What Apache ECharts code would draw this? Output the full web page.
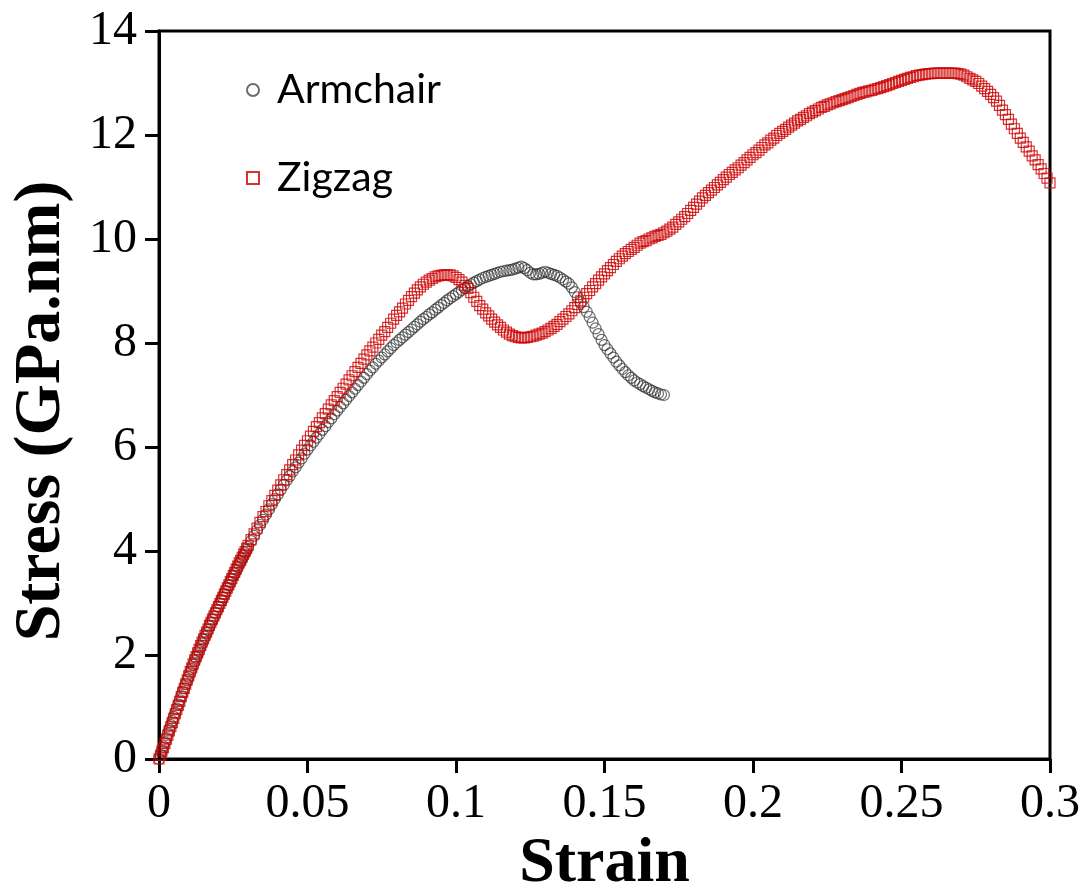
<!DOCTYPE html>
<html>
<head>
<meta charset="utf-8">
<script src="https://cdn.jsdelivr.net/npm/echarts@6/dist/echarts.min.js"></script>
<style>
  html, body { margin: 0; padding: 0; background: #fff; }
  #chart { width: 1079px; height: 894px; }
</style>
</head>
<body>
<div id="chart"></div>
<script>
// strain, stress (GPa.nm)
const armchair = [
  [0, 0], [0.0005, 0.08], [0.001, 0.16], [0.0015, 0.24], [0.002, 0.32], [0.0025, 0.40],
  [0.003, 0.49], [0.0035, 0.57], [0.004, 0.65], [0.0045, 0.73], [0.005, 0.81], [0.0055, 0.89],
  [0.006, 0.97], [0.0065, 1.05], [0.007, 1.13], [0.0075, 1.21], [0.008, 1.29], [0.0085, 1.36],
  [0.009, 1.44], [0.0095, 1.51], [0.010, 1.58], [0.0105, 1.66], [0.011, 1.73], [0.0115, 1.81],
  [0.012, 1.88], [0.0125, 1.95], [0.013, 2.01], [0.0135, 2.08], [0.014, 2.15], [0.0145, 2.22],
  [0.015, 2.29], [0.0155, 2.35], [0.016, 2.42], [0.0165, 2.48], [0.017, 2.55], [0.0175, 2.62],
  [0.018, 2.68], [0.0185, 2.74], [0.019, 2.81], [0.0195, 2.87], [0.020, 2.93], [0.0205, 2.99],
  [0.021, 3.05], [0.0215, 3.11], [0.022, 3.17], [0.0225, 3.23], [0.023, 3.29], [0.0235, 3.34],
  [0.024, 3.40], [0.0245, 3.46], [0.025, 3.52], [0.0255, 3.57], [0.026, 3.63], [0.0265, 3.69],
  [0.027, 3.75], [0.0275, 3.80], [0.028, 3.86], [0.0285, 3.91], [0.029, 3.97], [0.0295, 4.02],
  [0.030, 4.08], [0.031, 4.19], [0.032, 4.29], [0.033, 4.40], [0.034, 4.50], [0.035, 4.60],
  [0.036, 4.70], [0.037, 4.80], [0.038, 4.90], [0.039, 5.00], [0.040, 5.09], [0.041, 5.18],
  [0.042, 5.27], [0.043, 5.36], [0.044, 5.44], [0.045, 5.53], [0.046, 5.61], [0.047, 5.70],
  [0.048, 5.78], [0.049, 5.87], [0.050, 5.95], [0.051, 6.03], [0.052, 6.10], [0.053, 6.18],
  [0.054, 6.25], [0.055, 6.33], [0.056, 6.40], [0.057, 6.48], [0.058, 6.55], [0.059, 6.63],
  [0.060, 6.70], [0.061, 6.77], [0.062, 6.84], [0.063, 6.91], [0.064, 6.98], [0.065, 7.05],
  [0.066, 7.12], [0.067, 7.19], [0.068, 7.26], [0.069, 7.33], [0.070, 7.40], [0.071, 7.47],
  [0.072, 7.53], [0.073, 7.60], [0.074, 7.66], [0.075, 7.72], [0.076, 7.78], [0.077, 7.84],
  [0.078, 7.90], [0.079, 7.96], [0.080, 8.01], [0.081, 8.06], [0.082, 8.11], [0.083, 8.16],
  [0.084, 8.21], [0.085, 8.26], [0.086, 8.31], [0.087, 8.36], [0.088, 8.41], [0.089, 8.46],
  [0.090, 8.50], [0.091, 8.55], [0.092, 8.59], [0.093, 8.64], [0.094, 8.68], [0.095, 8.73],
  [0.096, 8.77], [0.097, 8.82], [0.098, 8.86], [0.099, 8.90], [0.100, 8.94], [0.101, 8.98],
  [0.102, 9.02], [0.103, 9.06], [0.104, 9.09], [0.105, 9.13], [0.106, 9.16], [0.107, 9.19],
  [0.108, 9.22], [0.109, 9.25], [0.110, 9.27], [0.111, 9.29], [0.112, 9.31], [0.113, 9.33],
  [0.114, 9.35], [0.115, 9.37], [0.116, 9.38], [0.117, 9.39], [0.118, 9.40], [0.119, 9.41],
  [0.120, 9.43], [0.121, 9.45], [0.122, 9.47], [0.123, 9.44], [0.124, 9.40], [0.125, 9.35],
  [0.126, 9.32], [0.127, 9.32], [0.128, 9.33], [0.129, 9.35], [0.130, 9.37], [0.131, 9.35],
  [0.132, 9.33], [0.133, 9.31], [0.134, 9.29], [0.135, 9.26], [0.136, 9.22], [0.137, 9.18],
  [0.138, 9.14], [0.139, 9.07], [0.140, 8.98], [0.141, 8.88], [0.142, 8.78], [0.143, 8.69],
  [0.144, 8.60], [0.145, 8.50], [0.146, 8.39], [0.147, 8.28], [0.148, 8.17], [0.149, 8.06],
  [0.150, 7.96], [0.151, 7.88], [0.152, 7.80], [0.153, 7.72], [0.154, 7.64], [0.155, 7.57],
  [0.156, 7.50], [0.157, 7.44], [0.158, 7.38], [0.159, 7.33], [0.160, 7.28], [0.161, 7.24],
  [0.162, 7.21], [0.163, 7.17], [0.164, 7.14], [0.165, 7.11], [0.166, 7.08], [0.167, 7.05],
  [0.168, 7.03], [0.169, 7.01], [0.170, 7.00]
];

const zigzag = [
  [0, 0], [0.0005, 0.07], [0.001, 0.15], [0.0015, 0.22], [0.002, 0.30], [0.0025, 0.38],
  [0.003, 0.46], [0.0035, 0.54], [0.004, 0.62], [0.0045, 0.70], [0.005, 0.78], [0.0055, 0.87],
  [0.006, 0.95], [0.0065, 1.03], [0.007, 1.11], [0.0075, 1.20], [0.008, 1.28], [0.0085, 1.36],
  [0.009, 1.44], [0.0095, 1.52], [0.010, 1.60], [0.0105, 1.68], [0.011, 1.75], [0.0115, 1.83],
  [0.012, 1.90], [0.0125, 1.97], [0.013, 2.04], [0.0135, 2.11], [0.014, 2.18], [0.0145, 2.25],
  [0.015, 2.31], [0.0155, 2.38], [0.016, 2.44], [0.0165, 2.50], [0.017, 2.57], [0.0175, 2.63],
  [0.018, 2.69], [0.0185, 2.75], [0.019, 2.81], [0.0195, 2.87], [0.020, 2.93], [0.0205, 2.99],
  [0.021, 3.05], [0.0215, 3.11], [0.022, 3.17], [0.0225, 3.23], [0.023, 3.29], [0.0235, 3.35],
  [0.024, 3.41], [0.0245, 3.47], [0.025, 3.53], [0.0255, 3.59], [0.026, 3.65], [0.0265, 3.71],
  [0.027, 3.77], [0.0275, 3.82], [0.028, 3.88], [0.0285, 3.94], [0.029, 3.99], [0.0295, 4.05],
  [0.030, 4.11], [0.031, 4.22], [0.032, 4.33], [0.033, 4.44], [0.034, 4.55], [0.035, 4.66],
  [0.036, 4.76], [0.037, 4.87], [0.038, 4.97], [0.039, 5.07], [0.040, 5.17], [0.041, 5.27],
  [0.042, 5.37], [0.043, 5.47], [0.044, 5.56], [0.045, 5.66], [0.046, 5.75], [0.047, 5.85],
  [0.048, 5.94], [0.049, 6.03], [0.050, 6.12], [0.051, 6.21], [0.052, 6.30], [0.053, 6.39],
  [0.054, 6.47], [0.055, 6.56], [0.056, 6.64], [0.057, 6.73], [0.058, 6.81], [0.059, 6.89],
  [0.060, 6.97], [0.061, 7.05], [0.062, 7.13], [0.063, 7.21], [0.064, 7.29], [0.065, 7.37],
  [0.066, 7.45], [0.067, 7.53], [0.068, 7.61], [0.069, 7.69], [0.070, 7.77], [0.071, 7.85],
  [0.072, 7.92], [0.073, 8.00], [0.074, 8.07], [0.075, 8.15], [0.076, 8.22], [0.077, 8.30],
  [0.078, 8.38], [0.079, 8.46], [0.080, 8.53], [0.081, 8.60], [0.082, 8.67], [0.083, 8.75],
  [0.084, 8.82], [0.085, 8.89], [0.086, 8.96], [0.087, 9.02], [0.088, 9.08], [0.089, 9.13],
  [0.090, 9.17], [0.091, 9.21], [0.092, 9.24], [0.093, 9.27], [0.094, 9.29], [0.095, 9.30],
  [0.096, 9.31], [0.097, 9.31], [0.098, 9.31], [0.099, 9.29], [0.100, 9.26], [0.101, 9.22],
  [0.102, 9.17], [0.103, 9.11], [0.104, 9.05], [0.105, 8.97], [0.106, 8.88], [0.107, 8.80],
  [0.108, 8.72], [0.109, 8.65], [0.110, 8.58], [0.111, 8.52], [0.112, 8.46], [0.113, 8.40],
  [0.114, 8.35], [0.115, 8.30], [0.116, 8.25], [0.117, 8.21], [0.118, 8.17], [0.119, 8.14],
  [0.120, 8.12], [0.121, 8.11], [0.122, 8.10], [0.123, 8.10], [0.124, 8.11], [0.125, 8.12],
  [0.126, 8.13], [0.127, 8.15], [0.128, 8.17], [0.129, 8.19], [0.130, 8.22], [0.131, 8.25],
  [0.132, 8.28], [0.133, 8.32], [0.134, 8.36], [0.135, 8.41], [0.136, 8.46], [0.137, 8.51],
  [0.138, 8.56], [0.139, 8.62], [0.140, 8.68], [0.141, 8.74], [0.142, 8.81], [0.143, 8.88],
  [0.144, 8.95], [0.145, 9.01], [0.146, 9.08], [0.147, 9.14], [0.148, 9.21], [0.149, 9.27],
  [0.150, 9.33], [0.151, 9.39], [0.152, 9.45], [0.153, 9.51], [0.154, 9.57], [0.155, 9.62],
  [0.156, 9.67], [0.157, 9.72], [0.158, 9.76], [0.159, 9.80], [0.160, 9.84], [0.161, 9.88],
  [0.162, 9.92], [0.163, 9.95], [0.164, 9.97], [0.165, 10.00], [0.166, 10.02], [0.167, 10.05],
  [0.168, 10.07], [0.169, 10.09], [0.170, 10.12], [0.171, 10.15], [0.172, 10.19], [0.173, 10.23],
  [0.174, 10.28], [0.175, 10.33], [0.176, 10.38], [0.177, 10.43], [0.178, 10.49], [0.179, 10.55],
  [0.180, 10.61], [0.181, 10.67], [0.182, 10.73], [0.183, 10.79], [0.184, 10.84], [0.185, 10.89],
  [0.186, 10.94], [0.187, 10.99], [0.188, 11.04], [0.189, 11.09], [0.190, 11.14], [0.191, 11.19],
  [0.192, 11.24], [0.193, 11.28], [0.194, 11.33], [0.195, 11.37], [0.196, 11.42], [0.197, 11.47],
  [0.198, 11.52], [0.199, 11.57], [0.200, 11.62], [0.201, 11.66], [0.202, 11.71], [0.203, 11.76],
  [0.204, 11.81], [0.205, 11.85], [0.206, 11.90], [0.207, 11.94], [0.208, 11.99], [0.209, 12.03],
  [0.210, 12.07], [0.211, 12.11], [0.212, 12.15], [0.213, 12.19], [0.214, 12.23], [0.215, 12.27],
  [0.216, 12.30], [0.217, 12.34], [0.218, 12.37], [0.219, 12.41], [0.220, 12.44], [0.221, 12.47],
  [0.222, 12.50], [0.223, 12.53], [0.224, 12.55], [0.225, 12.58], [0.226, 12.60], [0.227, 12.62],
  [0.228, 12.64], [0.229, 12.66], [0.230, 12.68], [0.231, 12.70], [0.232, 12.72], [0.233, 12.74],
  [0.234, 12.76], [0.235, 12.78], [0.236, 12.80], [0.237, 12.82], [0.238, 12.83], [0.239, 12.85],
  [0.240, 12.86], [0.241, 12.88], [0.242, 12.89], [0.243, 12.91], [0.244, 12.93], [0.245, 12.95],
  [0.246, 12.97], [0.247, 12.99], [0.248, 13.01], [0.249, 13.03], [0.250, 13.05], [0.251, 13.07],
  [0.252, 13.09], [0.253, 13.11], [0.254, 13.12], [0.255, 13.14], [0.256, 13.15], [0.257, 13.16],
  [0.258, 13.17], [0.259, 13.18], [0.260, 13.18], [0.261, 13.19], [0.262, 13.19], [0.263, 13.19],
  [0.264, 13.19], [0.265, 13.19], [0.266, 13.19], [0.267, 13.19], [0.268, 13.19], [0.269, 13.18],
  [0.270, 13.17], [0.271, 13.15], [0.272, 13.12], [0.273, 13.09], [0.274, 13.06], [0.275, 13.03],
  [0.276, 12.99], [0.277, 12.94], [0.278, 12.89], [0.279, 12.84], [0.280, 12.78], [0.281, 12.72],
  [0.282, 12.65], [0.283, 12.57], [0.284, 12.48], [0.285, 12.39], [0.286, 12.30], [0.287, 12.21],
  [0.288, 12.12], [0.289, 12.03], [0.290, 11.94], [0.291, 11.86], [0.292, 11.77], [0.293, 11.69],
  [0.294, 11.60], [0.295, 11.52], [0.296, 11.43], [0.297, 11.35], [0.298, 11.26], [0.299, 11.17],
  [0.300, 11.08]
];

const seriesNames = ['Armchair', 'Zigzag'];
const strainRange = [0, 0.3, 0.05];
const stressRange = [0, 14, 2];

const chart = echarts.init(document.getElementById('chart'));

const serif = 'Liberation Serif';

chart.setOption({
  animation: false,
  backgroundColor: '#fff',
  grid: {
    left: 159,
    right: 29,
    top: 31,
    bottom: 135,
    outerBoundsMode: 'none',
    show: true,
    borderColor: '#000',
    borderWidth: 3
  },
  legend: {
    orient: 'vertical',
    left: 241,
    top: 64,
    itemWidth: 12,
    itemHeight: 12,
    itemGap: 46,
    data: seriesNames,
    textStyle: {
      fontFamily: 'Lato',
      fontSize: 41,
      lineHeight: 42,
      color: '#000',
      padding: [0, 0, 0, 13]
    }
  },
  xAxis: {
    type: 'value',
    min: strainRange[0],
    max: strainRange[1],
    interval: strainRange[2],
    name: 'Strain',
    nameLocation: 'middle',
    nameGap: 72,
    nameTextStyle: { fontFamily: serif, fontSize: 64, fontWeight: 'bold', color: '#000' },
    axisLine: { lineStyle: { color: '#000', width: 3 } },
    axisTick: { length: 14, lineStyle: { color: '#000', width: 3 } },
    splitLine: { show: false },
    axisLabel: {
      margin: 21,
      fontFamily: serif,
      fontSize: 48,
      color: '#000',
      formatter: v => String(parseFloat(v.toFixed(2)))
    }
  },
  yAxis: {
    type: 'value',
    min: stressRange[0],
    max: stressRange[1],
    interval: stressRange[2],
    name: 'Stress (GPa.nm)',
    nameLocation: 'middle',
    nameGap: 84,
    nameTextStyle: {
      fontFamily: serif, fontSize: 66, fontWeight: 'bold', color: '#000',
      padding: [0, 32, 0, 0]
    },
    axisLine: { lineStyle: { color: '#000', width: 3 } },
    axisTick: { length: 14, lineStyle: { color: '#000', width: 3 } },
    splitLine: { show: false },
    axisLabel: { margin: 22, fontFamily: serif, fontSize: 48, color: '#000' }
  },
  series: [
    {
      name: seriesNames[0],
      type: 'scatter',
      symbol: 'circle',
      symbolSize: 11,
      data: armchair,
      itemStyle: { color: 'rgba(0,0,0,0)', borderColor: 'rgba(40,40,40,0.85)', borderWidth: 1.2 }
    },
    {
      name: seriesNames[1],
      type: 'scatter',
      symbol: 'rect',
      symbolSize: 10,
      data: zigzag,
      itemStyle: { color: 'rgba(0,0,0,0)', borderColor: '#cc0000', borderWidth: 1.2 }
    }
  ]
});
</script>
</body>
</html>
